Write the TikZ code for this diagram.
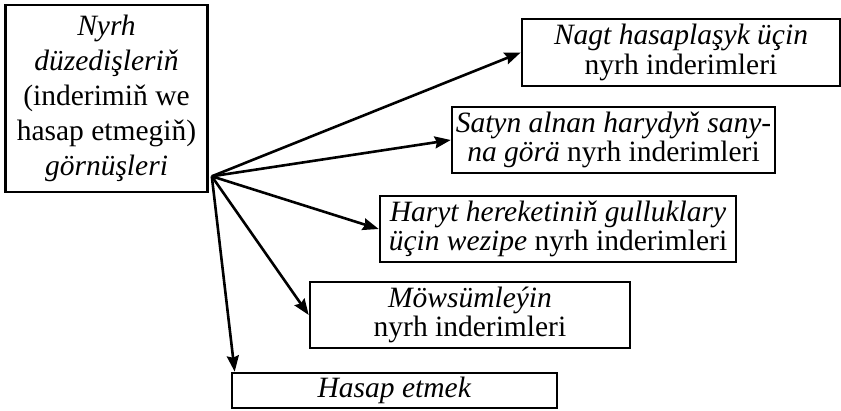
\documentclass[tikz,border=0pt]{standalone}
\usepackage{fontspec}
\setmainfont{Liberation Serif}
\usetikzlibrary{arrows.meta,calc}
\begin{document}
\begin{tikzpicture}[x=1pt,y=-1pt,
  box/.style={draw,line width=2.6pt,inner sep=0pt,align=center,
    font=\fontsize{29.5}{29.5}\selectfont},
  arr/.style={line width=2.6pt,-{Stealth[length=16pt,width=12pt,inset=2pt]}}]
\useasboundingbox (0,0) rectangle (841,410);
\node[box,minimum width=202pt,minimum height=187pt,
  font=\fontsize{29.5}{35}\selectfont] (main) at (106.5,98.5)
  {\textit{Nyrh}\\ \textit{düzedişleriň}\\ (inderimiň we\\ hasap etmegiň)\\ \textit{görnüşleri}};
\node[box,minimum width=318pt,minimum height=67pt] (b1) at (681,52.5)
  {\textit{Nagt hasaplaşyk üçin}\\ nyrh inderimleri};
\node[box,minimum width=323pt,minimum height=66pt] (b2) at (613.5,140)
  {\textit{Satyn alnan harydyň sany-}\\ \textit{na görä} nyrh inderimleri};
\node[box,minimum width=356pt,minimum height=66pt] (b3) at (558,229)
  {\textit{Haryt hereketiniň gulluklary}\\ \textit{üçin wezipe} nyrh inderimleri};
\node[box,minimum width=320pt,minimum height=66pt] (b4) at (470,315)
  {\textit{Möwsümleýin}\\ nyrh inderimleri};
\node[box,minimum width=325pt,minimum height=35pt] (b5) at (394.5,390.5)
  {\textit{Hasap etmek}};
\coordinate (o) at ($(main.south east)+(3,-17)$);
\draw[arr] (o) -- (b1.west);
\draw[arr] (o) -- (b2.west);
\draw[arr] (o) -- (b3.west);
\draw[arr] (o) -- (b4.west);
\draw[arr] (o) -- ($(b5.north west)+(4,0)$);
\end{tikzpicture}
\end{document}
